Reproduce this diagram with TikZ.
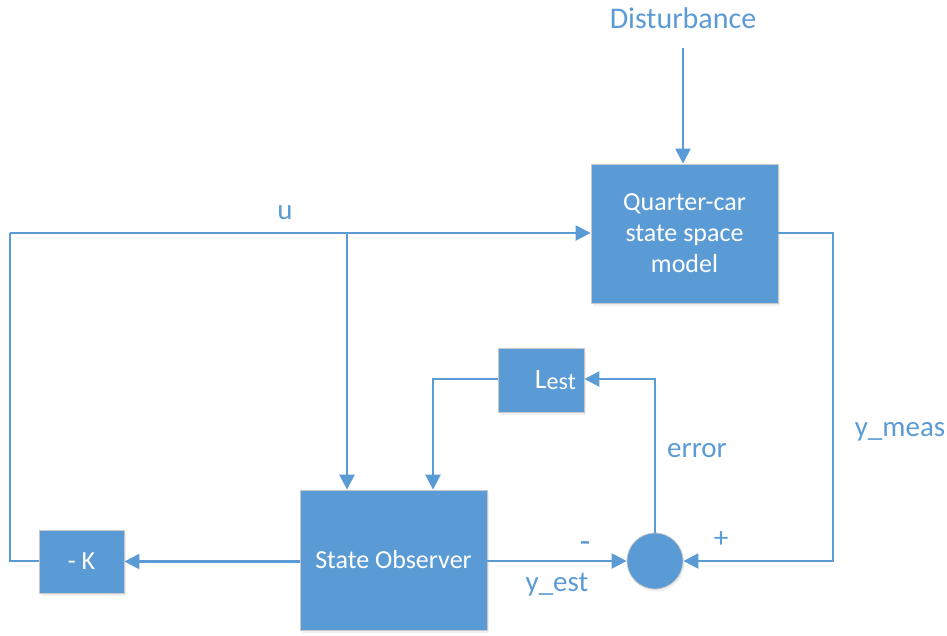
\documentclass[tikz,border=0pt]{standalone}
\usepackage{fontspec}
\setmainfont{Carlito}
\usetikzlibrary{arrows.meta,shadows}
\definecolor{mblue}{HTML}{5B9BD5}
\begin{document}
\begin{tikzpicture}[x=1pt,y=-1pt,
  blk/.style={draw=black!22, line width=0.8pt, fill=mblue, text=white, align=center, inner sep=0pt,
    drop shadow={opacity=0.12, shadow xshift=1.5pt, shadow yshift=-2.5pt}},
  lbl/.style={text=mblue, inner sep=0pt, font=\fontsize{29}{34}\selectfont},
  wire/.style={draw=mblue, line width=2.4pt},
  arr/.style={wire, -{Triangle[length=15pt,width=15pt]}},
  every node/.append style={font=\fontsize{26}{31}\selectfont}]
\useasboundingbox (0,0) rectangle (947,635);
% nodes
\node[lbl, font=\fontsize{30}{34}\selectfont] (dist) at (683,18) {Disturbance};
\node[blk, minimum width=187pt, minimum height=139pt] (qc) at (684.5,233.5) {Quarter-car\\state space\\model};
\node[blk, minimum width=85pt, minimum height=63pt] (kk) at (81.5,561.5) {- K};
\node[blk, minimum width=187pt, minimum height=140pt] (so) at (393.5,560) {State Observer};
\node[blk, minimum width=86pt, minimum height=64pt] (le) at (541,380) {};
\node[text=white, inner sep=0pt, anchor=base east] (let) at (576,388) {\fontsize{28}{32}\selectfont L\raisebox{-1pt}{\fontsize{24}{28}\selectfont est}};
\node[blk, circle, minimum size=56pt] (sum) at (655,561) {};
% labels
\node[lbl] (ul) at (285,213) {u};
\node[lbl, font=\fontsize{34}{38}\selectfont] (mi) at (585,547) {-};
\node[lbl] (pl) at (721,540) {+};
\node[lbl] (ye) at (557,585) {y\_est};
\node[lbl] (er) at (697,451) {error};
\node[lbl] (ym) at (900,432) {y\_meas};
% coordinates
\coordinate (dtop) at (683,48);
\coordinate (lt) at (10,233);
\coordinate (lb) at (10,561);
\coordinate (br1) at (347,233);
\coordinate (rt) at (833,233);
\coordinate (rb) at (833,561);
\coordinate (et) at (655,379);
\coordinate (fl) at (433,379);
% connectors
\draw[arr] (dtop) -- (qc.north -| dtop);
\draw[arr] (lt) -- (qc.west |- lt);
\draw[wire] (kk.west |- lb) -- (lb) -- (lt);
\draw[arr] (br1) -- (so.north -| br1);
\draw[arr] (so.west |- kk) -- (kk.east);
\draw[arr] (so.east |- sum) -- (sum.west);
\draw[arr] (qc.east |- rt) -- (rt) -- (rb) -- (sum.east);
\draw[arr] (sum.north) -- (et) -- (le.east |- et);
\draw[arr] (le.west |- fl) -- (fl) -- (so.north -| fl);
\end{tikzpicture}
\end{document}
